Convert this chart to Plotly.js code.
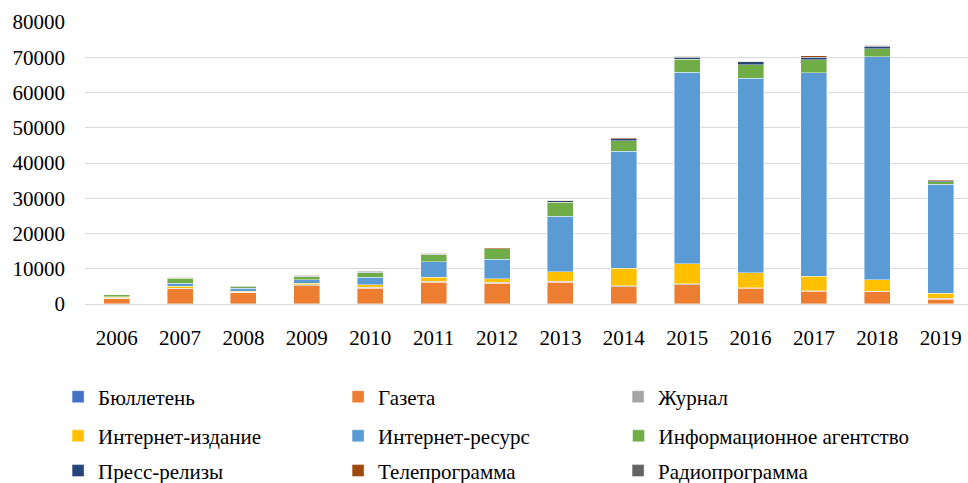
<!DOCTYPE html>
<html>
<head>
<meta charset="utf-8">
<script src="https://cdn.plot.ly/plotly-3.0.1.min.js"></script>
<style>html,body{margin:0;padding:0;background:#fff;}#chart{width:968px;height:483px;}</style>
</head>
<body>
<div id="chart"></div>
<script>
const years = ['2006','2007','2008','2009','2010','2011','2012','2013','2014','2015','2016','2017','2018','2019'];
const seriesNames = ['Бюллетень','Газета','Журнал','Интернет-издание','Интернет-ресурс','Информационное агентство','Пресс-релизы','Телепрограмма','Радиопрограмма'];
const bulleten   = [10, 20, 20, 20, 20, 30, 30, 30, 40, 40, 30, 30, 30, 10];
const gazeta     = [1500, 4300, 3200, 5200, 4500, 6200, 5900, 6100, 4900, 5400, 4400, 3600, 3400, 1300];
const zhurnal    = [150, 200, 150, 200, 200, 250, 300, 300, 300, 250, 250, 200, 200, 300];
const izdanie    = [300, 500, 250, 400, 700, 1050, 1000, 2700, 4900, 5750, 4250, 4000, 3200, 1500];
const resurs     = [100, 800, 800, 1000, 2200, 4400, 5500, 15800, 33200, 54300, 55100, 57800, 63300, 30900];
const agentstvo  = [500, 1500, 500, 900, 1200, 2100, 2900, 4000, 3000, 3700, 3900, 3700, 2300, 700];
const pressrel   = [20, 80, 80, 150, 150, 150, 100, 300, 600, 600, 800, 700, 700, 200];
const teleprog   = [50, 120, 120, 250, 250, 250, 200, 200, 200, 200, 100, 400, 300, 300];
const radioprog  = [10, 20, 20, 20, 20, 20, 20, 30, 30, 30, 30, 30, 30, 20];
const colors = ['#4472C4','#ED7D31','#A5A5A5','#FFC000','#5B9BD5','#70AD47','#264478','#9E480E','#636363'];
const values = [bulleten, gazeta, zhurnal, izdanie, resurs, agentstvo, pressrel, teleprog, radioprog];
const legendSlot = ['legend','legend','legend','legend2','legend2','legend4','legend3','legend3','legend3'];

const traces = seriesNames.map((n, i) => ({
  type: 'bar',
  name: n,
  x: years,
  y: values[i],
  legend: legendSlot[i],
  marker: {color: colors[i], line: {color: 'rgba(255,255,255,0.6)', width: 0.7}},
  hoverinfo: 'x+y+name'
}));

const fam = 'Liberation Serif, Times New Roman, serif';
const fs = 21;

function legendAt(xc, yc, fixedWidth) {
  const l = {
    orientation: 'h',
    traceorder: 'normal',
    xref: 'container', yref: 'container',
    x: xc, xanchor: 'left',
    y: yc, yanchor: 'middle',
    font: {family: fam, size: fs, color: '#000'},
    itemwidth: 30,
    bgcolor: 'rgba(0,0,0,0)'
  };
  if (fixedWidth) { l.entrywidth = 235; l.entrywidthmode = 'pixels'; }
  return l;
}

const layout = {
  width: 968, height: 483,
  margin: {l: 85, r: 0, t: 22, b: 179},
  barmode: 'stack',
  bargap: 0.59,
  paper_bgcolor: '#fff', plot_bgcolor: '#fff',
  font: {family: fam, size: fs, color: '#000'},
  showlegend: true,
  xaxis: {
    type: 'category',
    range: [-0.5, 13.43],
    showgrid: false,
    showline: false,
    zeroline: false,
    ticks: '',
    ticklabelstandoff: 19,
    tickfont: {family: fam, size: fs, color: '#000'}
  },
  yaxis: {
    range: [0, 80000],
    dtick: 10000,
    showgrid: true,
    gridcolor: '#d9d9d9',
    gridwidth: 1,
    zeroline: true,
    zerolinecolor: '#d9d9d9',
    zerolinewidth: 1,
    showline: false,
    ticks: '',
    ticklabelstandoff: 19,
    tickformat: 'd',
    tickfont: {family: fam, size: fs, color: '#000'}
  },
  legend: legendAt(0.060, 0.178, true),
  legend2: legendAt(0.060, 0.097, true),
  legend4: legendAt(0.639, 0.097, false),
  legend3: legendAt(0.060, 0.025, true)
};

Plotly.newPlot('chart', traces, layout, {displayModeBar: false, staticPlot: true});
</script>
</body>
</html>
